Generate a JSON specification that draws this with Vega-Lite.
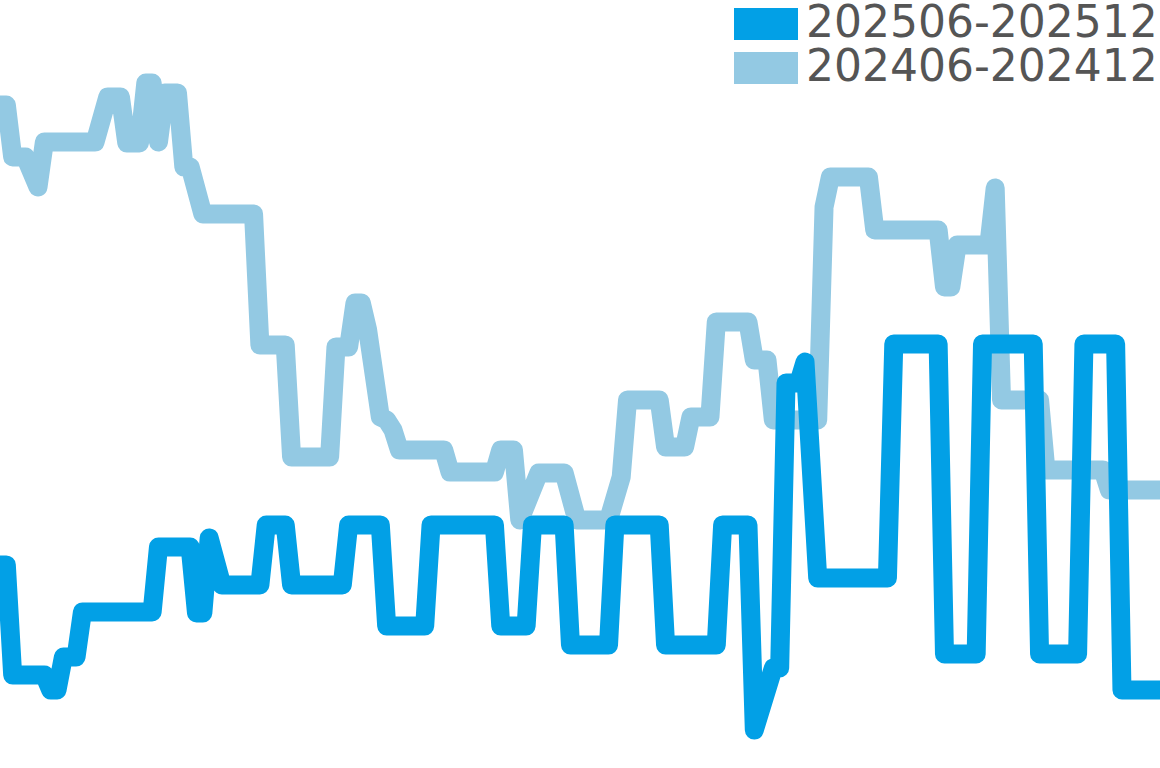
{
  "$schema": "https://vega.github.io/schema/vega-lite/v6.json",
  "description": "Two periods compared, daily line",
  "autosize": {"type": "none"},
  "width": 1160,
  "height": 768,
  "padding": 0,
  "config": {"view": {"stroke": null}},
  "data": {
    "values": [
      {"s": "202406-202412", "t": 0, "v": 66.3},
      {"s": "202406-202412", "t": 1, "v": 66.3},
      {"s": "202406-202412", "t": 2, "v": 61.1},
      {"s": "202406-202412", "t": 4, "v": 61.1},
      {"s": "202406-202412", "t": 6, "v": 58.1},
      {"s": "202406-202412", "t": 7, "v": 62.6},
      {"s": "202406-202412", "t": 15, "v": 62.6},
      {"s": "202406-202412", "t": 17, "v": 67.1},
      {"s": "202406-202412", "t": 19, "v": 67.1},
      {"s": "202406-202412", "t": 20, "v": 62.5},
      {"s": "202406-202412", "t": 22, "v": 62.5},
      {"s": "202406-202412", "t": 23, "v": 68.5},
      {"s": "202406-202412", "t": 24, "v": 68.5},
      {"s": "202406-202412", "t": 25, "v": 62.6},
      {"s": "202406-202412", "t": 26, "v": 67.5},
      {"s": "202406-202412", "t": 28, "v": 67.5},
      {"s": "202406-202412", "t": 29, "v": 60.1},
      {"s": "202406-202412", "t": 30, "v": 60.1},
      {"s": "202406-202412", "t": 32, "v": 55.4},
      {"s": "202406-202412", "t": 40, "v": 55.4},
      {"s": "202406-202412", "t": 41, "v": 42.3},
      {"s": "202406-202412", "t": 45, "v": 42.3},
      {"s": "202406-202412", "t": 46, "v": 31.1},
      {"s": "202406-202412", "t": 52, "v": 31.1},
      {"s": "202406-202412", "t": 53, "v": 42.1},
      {"s": "202406-202412", "t": 55, "v": 42.1},
      {"s": "202406-202412", "t": 56, "v": 46.5},
      {"s": "202406-202412", "t": 57, "v": 46.5},
      {"s": "202406-202412", "t": 58, "v": 43.8},
      {"s": "202406-202412", "t": 60, "v": 35.1},
      {"s": "202406-202412", "t": 61, "v": 34.8},
      {"s": "202406-202412", "t": 62, "v": 33.8},
      {"s": "202406-202412", "t": 63, "v": 31.8},
      {"s": "202406-202412", "t": 70, "v": 31.8},
      {"s": "202406-202412", "t": 71, "v": 29.6},
      {"s": "202406-202412", "t": 78, "v": 29.6},
      {"s": "202406-202412", "t": 79, "v": 31.8},
      {"s": "202406-202412", "t": 81, "v": 31.8},
      {"s": "202406-202412", "t": 82, "v": 24.8},
      {"s": "202406-202412", "t": 85, "v": 29.5},
      {"s": "202406-202412", "t": 89, "v": 29.5},
      {"s": "202406-202412", "t": 91, "v": 24.8},
      {"s": "202406-202412", "t": 96, "v": 24.8},
      {"s": "202406-202412", "t": 98, "v": 29.1},
      {"s": "202406-202412", "t": 99, "v": 36.8},
      {"s": "202406-202412", "t": 104, "v": 36.8},
      {"s": "202406-202412", "t": 105, "v": 32.1},
      {"s": "202406-202412", "t": 108, "v": 32.1},
      {"s": "202406-202412", "t": 109, "v": 35.1},
      {"s": "202406-202412", "t": 112, "v": 35.1},
      {"s": "202406-202412", "t": 113, "v": 44.6},
      {"s": "202406-202412", "t": 118, "v": 44.6},
      {"s": "202406-202412", "t": 119, "v": 40.8},
      {"s": "202406-202412", "t": 121, "v": 40.8},
      {"s": "202406-202412", "t": 122, "v": 34.8},
      {"s": "202406-202412", "t": 129, "v": 34.8},
      {"s": "202406-202412", "t": 130, "v": 56.1},
      {"s": "202406-202412", "t": 131, "v": 59.1},
      {"s": "202406-202412", "t": 137, "v": 59.1},
      {"s": "202406-202412", "t": 138, "v": 53.8},
      {"s": "202406-202412", "t": 148, "v": 53.8},
      {"s": "202406-202412", "t": 149, "v": 48.1},
      {"s": "202406-202412", "t": 150, "v": 48.1},
      {"s": "202406-202412", "t": 151, "v": 52.3},
      {"s": "202406-202412", "t": 156, "v": 52.3},
      {"s": "202406-202412", "t": 157, "v": 58.0},
      {"s": "202406-202412", "t": 158, "v": 36.8},
      {"s": "202406-202412", "t": 164, "v": 36.8},
      {"s": "202406-202412", "t": 165, "v": 29.8},
      {"s": "202406-202412", "t": 174, "v": 29.8},
      {"s": "202406-202412", "t": 175, "v": 27.8},
      {"s": "202406-202412", "t": 183, "v": 27.8},
      {"s": "202506-202512", "t": 0, "v": 20.3},
      {"s": "202506-202512", "t": 1, "v": 20.3},
      {"s": "202506-202512", "t": 2, "v": 9.3},
      {"s": "202506-202512", "t": 7, "v": 9.3},
      {"s": "202506-202512", "t": 8, "v": 7.8},
      {"s": "202506-202512", "t": 9, "v": 7.8},
      {"s": "202506-202512", "t": 10, "v": 11.1},
      {"s": "202506-202512", "t": 12, "v": 11.1},
      {"s": "202506-202512", "t": 13, "v": 15.6},
      {"s": "202506-202512", "t": 24, "v": 15.6},
      {"s": "202506-202512", "t": 25, "v": 22.1},
      {"s": "202506-202512", "t": 30, "v": 22.1},
      {"s": "202506-202512", "t": 31, "v": 15.5},
      {"s": "202506-202512", "t": 32, "v": 15.5},
      {"s": "202506-202512", "t": 33, "v": 23.0},
      {"s": "202506-202512", "t": 35, "v": 18.3},
      {"s": "202506-202512", "t": 41, "v": 18.3},
      {"s": "202506-202512", "t": 42, "v": 24.3},
      {"s": "202506-202512", "t": 45, "v": 24.3},
      {"s": "202506-202512", "t": 46, "v": 18.3},
      {"s": "202506-202512", "t": 54, "v": 18.3},
      {"s": "202506-202512", "t": 55, "v": 24.3},
      {"s": "202506-202512", "t": 60, "v": 24.3},
      {"s": "202506-202512", "t": 61, "v": 14.2},
      {"s": "202506-202512", "t": 67, "v": 14.2},
      {"s": "202506-202512", "t": 68, "v": 24.3},
      {"s": "202506-202512", "t": 78, "v": 24.3},
      {"s": "202506-202512", "t": 79, "v": 14.2},
      {"s": "202506-202512", "t": 83, "v": 14.2},
      {"s": "202506-202512", "t": 84, "v": 24.3},
      {"s": "202506-202512", "t": 89, "v": 24.3},
      {"s": "202506-202512", "t": 90, "v": 12.3},
      {"s": "202506-202512", "t": 96, "v": 12.3},
      {"s": "202506-202512", "t": 97, "v": 24.3},
      {"s": "202506-202512", "t": 104, "v": 24.3},
      {"s": "202506-202512", "t": 105, "v": 12.3},
      {"s": "202506-202512", "t": 113, "v": 12.3},
      {"s": "202506-202512", "t": 114, "v": 24.3},
      {"s": "202506-202512", "t": 118, "v": 24.3},
      {"s": "202506-202512", "t": 119, "v": 3.8},
      {"s": "202506-202512", "t": 122, "v": 10.0},
      {"s": "202506-202512", "t": 123, "v": 10.0},
      {"s": "202506-202512", "t": 124, "v": 38.5},
      {"s": "202506-202512", "t": 126, "v": 38.5},
      {"s": "202506-202512", "t": 127, "v": 40.6},
      {"s": "202506-202512", "t": 129, "v": 19.0},
      {"s": "202506-202512", "t": 140, "v": 19.0},
      {"s": "202506-202512", "t": 141, "v": 42.4},
      {"s": "202506-202512", "t": 148, "v": 42.4},
      {"s": "202506-202512", "t": 149, "v": 11.4},
      {"s": "202506-202512", "t": 154, "v": 11.4},
      {"s": "202506-202512", "t": 155, "v": 42.4},
      {"s": "202506-202512", "t": 163, "v": 42.4},
      {"s": "202506-202512", "t": 164, "v": 11.4},
      {"s": "202506-202512", "t": 170, "v": 11.4},
      {"s": "202506-202512", "t": 171, "v": 42.4},
      {"s": "202506-202512", "t": 176, "v": 42.4},
      {"s": "202506-202512", "t": 177, "v": 7.8},
      {"s": "202506-202512", "t": 183, "v": 7.8}
    ]
  },
  "encoding": {
    "x": {"field": "t", "type": "quantitative", "axis": null, "scale": {"domain": [0, 183], "nice": false, "zero": false}},
    "y": {"field": "v", "type": "quantitative", "axis": null, "scale": {"domain": [0, 76.8], "nice": false}},
    "color": {
      "field": "s",
      "type": "nominal",
      "scale": {"domain": ["202506-202512", "202406-202412"], "range": ["#02a0e6", "#93c9e3"]},
      "legend": {
        "title": null,
        "orient": "top-right",
        "offset": 0,
        "padding": 2,
        "symbolType": "M-2,-1H2V1H-2Z",
        "symbolSize": 1024,
        "symbolStrokeWidth": 0,
        "labelFont": "DejaVu Sans",
        "labelFontSize": 44,
        "labelColor": "#555555",
        "labelOffset": 18,
        "labelLimit": 0,
        "rowPadding": 0,
        "encode": {
          "symbols": {"update": {"fill": {"scale": "color", "field": "value"}, "fillOpacity": {"value": 1}, "strokeWidth": {"value": 0}}}
        }
      }
    }
  },
  "layer": [
    {
      "transform": [{"filter": "datum.s === '202406-202412'"}],
      "mark": {"type": "line", "strokeWidth": 19, "strokeJoin": "round", "strokeCap": "round"}
    },
    {
      "transform": [{"filter": "datum.s === '202506-202512'"}],
      "mark": {"type": "line", "strokeWidth": 19, "strokeJoin": "round", "strokeCap": "round"}
    }
  ]
}
